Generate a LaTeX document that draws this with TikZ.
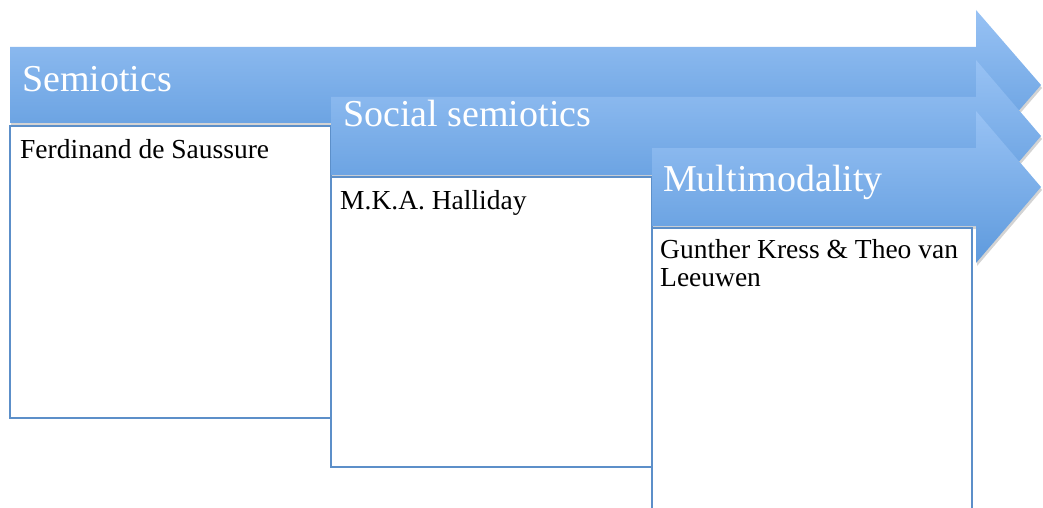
\documentclass[tikz,border=0pt]{standalone}
\usepackage{fontspec}
\setmainfont{Liberation Serif}
\usetikzlibrary{shadows}
\definecolor{arrtop}{RGB}{152,194,244}
\definecolor{arrbot}{RGB}{94,154,221}
\definecolor{boxline}{RGB}{92,143,201}
\begin{document}
\begin{tikzpicture}[x=1pt,y=-1pt,
  arrowshape/.style={top color=arrtop,bottom color=arrbot,draw=none,
    drop shadow={shadow xshift=1pt,shadow yshift=-3pt,opacity=0.35}},
  textbox/.style={draw=boxline,line width=1.8pt,fill=white},
  headtext/.style={anchor=base west,text=white,font=\fontsize{38}{40}\selectfont,inner sep=0pt},
  bodytext/.style={anchor=base west,font=\fontsize{27.5}{28}\selectfont,inner sep=0pt,align=left}]
\useasboundingbox (0,0) rectangle (1043,508);
\clip (0,0) rectangle (1043,508);
% arrow 1
\path[arrowshape] (10,47) -- (976,47) -- (976,10) -- (1041,85) -- (976,160) -- (976,123) -- (10,123) -- cycle;
\path[textbox] (10,126) rectangle (331,418);
\node[headtext] (h1) at (22,92) {Semiotics};
\node[bodytext] (b1) at (20,158) {Ferdinand de Saussure};
% arrow 2
\path[arrowshape] (331,97) -- (976,97) -- (976,60) -- (1041,136) -- (976,212) -- (976,175) -- (331,175) -- cycle;
\path[textbox] (331,177) rectangle (652,467);
\node[headtext] (h2) at (343,126) {Social semiotics};
\node[bodytext] (b2) at (340,209) {M.K.A. Halliday};
% arrow 3
\path[arrowshape] (652,148) -- (976,148) -- (976,111) -- (1041,187) -- (976,263) -- (976,226) -- (652,226) -- cycle;
\path[textbox] (652,228) rectangle (972,530);
\node[headtext] (h3) at (663,191) {Multimodality};
\node[bodytext,anchor=north west] (b3) at (660,239) {Gunther Kress \& Theo van\\Leeuwen};
\end{tikzpicture}
\end{document}
